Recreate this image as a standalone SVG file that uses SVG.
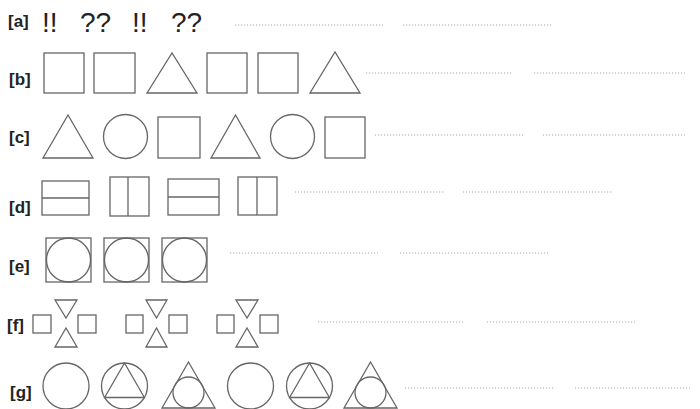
<svg xmlns="http://www.w3.org/2000/svg" width="700" height="409" viewBox="0 0 700 409">
<style>
.lbl{font-family:"Liberation Sans",Arial,sans-serif;font-weight:bold;font-size:17px;fill:#222}
.sym{font-family:"Liberation Sans",Arial,sans-serif;font-size:28px;fill:#222}
.s{fill:none;stroke:#666;stroke-width:1.3}
.dot{stroke:#aaa;stroke-width:1.2;stroke-dasharray:1.2 1.8}
</style>
<rect width="700" height="409" fill="#fff"/>
<g id="row-a">
<text class="lbl" x="8" y="27">[a]</text>
<text class="sym" x="42" y="32">!!</text>
<text class="sym" x="80" y="32">??</text>
<text class="sym" x="132" y="32">!!</text>
<text class="sym" x="171" y="32">??</text>
<line class="dot" x1="235" y1="25" x2="383" y2="25"/>
<line class="dot" x1="403" y1="25" x2="553" y2="25"/>
</g>
<g id="row-b">
<text class="lbl" x="9" y="85">[b]</text>
<rect class="s" x="44" y="53" width="40" height="40"/>
<rect class="s" x="94" y="53" width="41" height="40"/>
<polygon class="s" points="147,93 172,53 197,93"/>
<rect class="s" x="207" y="53" width="40" height="40"/>
<rect class="s" x="258" y="53" width="40" height="40"/>
<polygon class="s" points="310,93 335,52 360,93"/>
<line class="dot" x1="366" y1="73" x2="513" y2="73"/>
<line class="dot" x1="534" y1="73" x2="685" y2="73"/>
</g>
<g id="row-c">
<text class="lbl" x="9" y="143">[c]</text>
<polygon class="s" points="43,158 68,115 93,158"/>
<circle class="s" cx="125.5" cy="136.5" r="22"/>
<rect class="s" x="158" y="117" width="42" height="41"/>
<polygon class="s" points="211,158 235.5,115 260,158"/>
<circle class="s" cx="292.5" cy="136.5" r="22"/>
<rect class="s" x="325" y="117" width="40" height="41"/>
<line class="dot" x1="375" y1="135" x2="523" y2="135"/>
<line class="dot" x1="543" y1="135" x2="685" y2="135"/>
</g>
<g id="row-d">
<text class="lbl" x="9" y="213">[d]</text>
<rect class="s" x="42" y="181" width="47" height="34"/>
<line class="s" x1="42" y1="198" x2="89" y2="198"/>
<rect class="s" x="110" y="177" width="39" height="39"/>
<line class="s" x1="128" y1="177" x2="128" y2="216"/>
<rect class="s" x="168" y="179" width="51" height="36"/>
<line class="s" x1="168" y1="197" x2="219" y2="197"/>
<rect class="s" x="238" y="177" width="39" height="38"/>
<line class="s" x1="257" y1="177" x2="257" y2="215"/>
<line class="dot" x1="295" y1="192" x2="445" y2="192"/>
<line class="dot" x1="463" y1="192" x2="613" y2="192"/>
</g>
<g id="row-e">
<text class="lbl" x="9" y="272">[e]</text>
<rect class="s" x="46" y="238" width="45" height="44"/>
<circle class="s" cx="68.5" cy="260" r="22"/>
<rect class="s" x="104" y="238" width="45" height="44"/>
<circle class="s" cx="126.5" cy="260" r="22"/>
<rect class="s" x="162" y="238" width="45" height="44"/>
<circle class="s" cx="184.5" cy="260" r="22"/>
<line class="dot" x1="230" y1="253" x2="378" y2="253"/>
<line class="dot" x1="400" y1="253" x2="548" y2="253"/>
</g>
<g id="row-f">
<text class="lbl" x="7" y="331">[f]</text>
<rect class="s" x="33" y="315" width="18" height="18"/>
<polygon class="s" points="55,300 77,300 66,318"/>
<polygon class="s" points="55,347 77,347 66,328"/>
<rect class="s" x="78" y="315" width="18" height="18"/>
<rect class="s" x="126" y="315" width="17" height="18"/>
<polygon class="s" points="146,300 167,300 156.5,318"/>
<polygon class="s" points="146,347 167,347 156.5,328"/>
<rect class="s" x="169" y="315" width="18" height="18"/>
<rect class="s" x="217" y="315" width="17" height="18"/>
<polygon class="s" points="236,300 258,300 247,318"/>
<polygon class="s" points="236,347 258,347 247,328"/>
<rect class="s" x="260" y="315" width="18" height="18"/>
<line class="dot" x1="318" y1="322" x2="465" y2="322"/>
<line class="dot" x1="487" y1="322" x2="635" y2="322"/>
</g>
<g id="row-g">
<text class="lbl" x="10" y="398">[g]</text>
<circle class="s" cx="66" cy="386" r="23"/>
<circle class="s" cx="124.5" cy="386" r="23"/>
<polygon class="s" points="124.5,363 144.4,397.5 104.6,397.5"/>
<polygon class="s" points="188.5,362 215,408 162,408"/>
<circle class="s" cx="188.5" cy="392.5" r="15.5"/>
<circle class="s" cx="250.5" cy="386" r="23"/>
<circle class="s" cx="309.5" cy="386" r="23"/>
<polygon class="s" points="309.5,363 329.4,397.5 289.6,397.5"/>
<polygon class="s" points="370.5,362 397,408 344,408"/>
<circle class="s" cx="370.5" cy="392.5" r="15.5"/>
<line class="dot" x1="405" y1="388" x2="555" y2="388"/>
<line class="dot" x1="575" y1="388" x2="690" y2="388"/>
</g>
</svg>
